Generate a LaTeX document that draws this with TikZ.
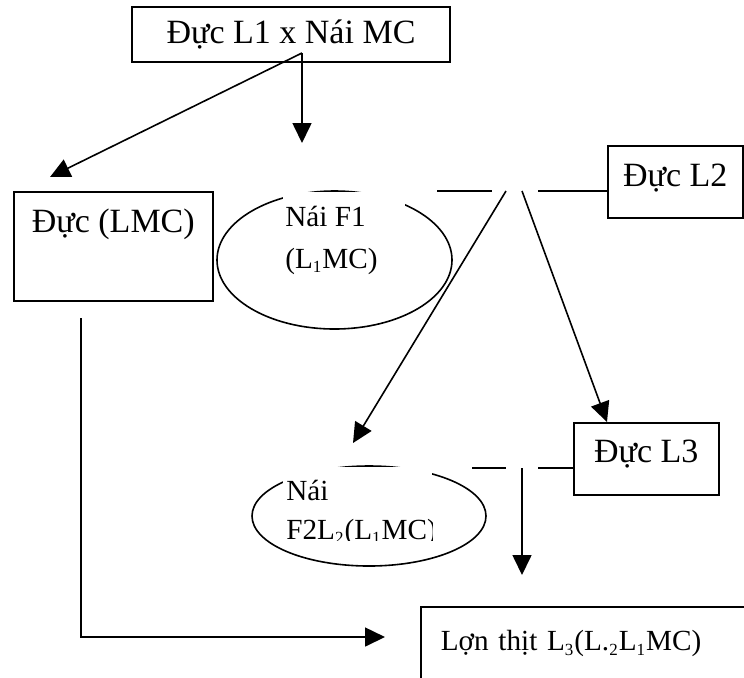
\documentclass[tikz,border=0pt]{standalone}
\usepackage{fontspec}
\setmainfont{Liberation Serif}
\usetikzlibrary{arrows.meta, shapes.geometric}
\newcommand{\lsub}[1]{\textsubscript{\fontsize{8.5}{9}\selectfont #1}}

\begin{document}
\begin{tikzpicture}[x=0.5pt, y=-0.5pt,
    every node/.style={inner sep=0pt},
    big/.style={font=\fontsize{17}{20}\selectfont},
    small/.style={font=\fontsize{14.6}{17}\selectfont},
    box/.style={draw, rectangle, line width=0.8pt, big},
    ellip/.style={draw, ellipse, line width=0.8pt},
    cover/.style={fill=white, rectangle},
    arr/.style={-{Triangle[length=10pt, width=9.5pt]}, line width=0.8pt},
    link/.style={line width=0.8pt}
]
\useasboundingbox (0,0) rectangle (744,677);

\node[box, minimum width=159pt, minimum height=27.5pt] (cross) at (291,34.5) {Đực L1 x Nái MC};
\node[box, anchor=north west, minimum width=99.5pt, text height=20.5pt, text depth=34pt] (lmc) at (13,191) {Đực (LMC)};
\node[box, anchor=north west, minimum width=67.5pt, text height=20.5pt, text depth=15.5pt] (l2) at (607,145) {Đực L2};
\node[box, anchor=north west, minimum width=72.5pt, text height=20pt, text depth=16pt] (l3) at (573,422) {Đực L3};
\node[box, small, anchor=north west, inner xsep=10pt, text width=150pt, align=left,
      text height=22pt, text depth=25pt] (meat) at (420,606)
      {Lợn thịt L\lsub{3}(L.\lsub{2}L\lsub{1}MC)};

\node[ellip, minimum width=117.5pt, minimum height=69pt] (f1) at (334.5,260) {};
\node[cover, anchor=north west, minimum width=61pt, minimum height=44pt] (f1c) at (283,192) {};
\node[small, anchor=base west] (f1a) at (285,226) {Nái F1};
\node[small, anchor=base west] (f1b) at (285,268) {(L\lsub{1}MC)};

\node[ellip, minimum width=117pt, minimum height=50pt] (f2) at (369,516) {};
\node[cover, anchor=north west, minimum width=74.5pt, minimum height=36.5pt] (f2c) at (283,467) {};
\begin{scope}
\clip (f2c.north west) rectangle (f2c.south east);
\node[small, anchor=base west] (f2a) at (286,500) {Nái};
\node[small, anchor=base west] (f2b) at (286,539) {F2L\lsub{2}(L\lsub{1}MC)};
\end{scope}

\coordinate (top) at (302,53);
\coordinate (toF1) at (302,143);
\coordinate (toLMC) at (50,177);
\draw[arr] (top) -- (toF1);
\draw[arr] (top) -- (toLMC);

\coordinate (m2a) at (437,191);
\coordinate (m2b) at (492,191);
\coordinate (m2c) at (538,191);
\coordinate (s2l) at (506,191);
\coordinate (s2r) at (522,191);
\coordinate (toF2) at (353,443);
\coordinate (toL3) at (607,422);
\draw[link] (m2a) -- (m2b);
\draw[link] (m2c) -- (m2c -| l2.west);
\draw[arr] (s2l) -- (toF2);
\draw[arr] (s2r) -- (toL3);

\coordinate (m3a) at (472,468);
\coordinate (m3b) at (506,468);
\coordinate (m3c) at (538,468);
\coordinate (s3) at (522,468);
\coordinate (toMeat) at (522,575);
\draw[link] (m3a) -- (m3b);
\draw[link] (m3c) -- (m3c -| l3.west);
\draw[arr] (s3) -- (toMeat);

\coordinate (lmcdown) at (81,318);
\coordinate (toMeat2) at (385,637);
\draw[arr] (lmcdown) |- (toMeat2);
\end{tikzpicture}
\end{document}
